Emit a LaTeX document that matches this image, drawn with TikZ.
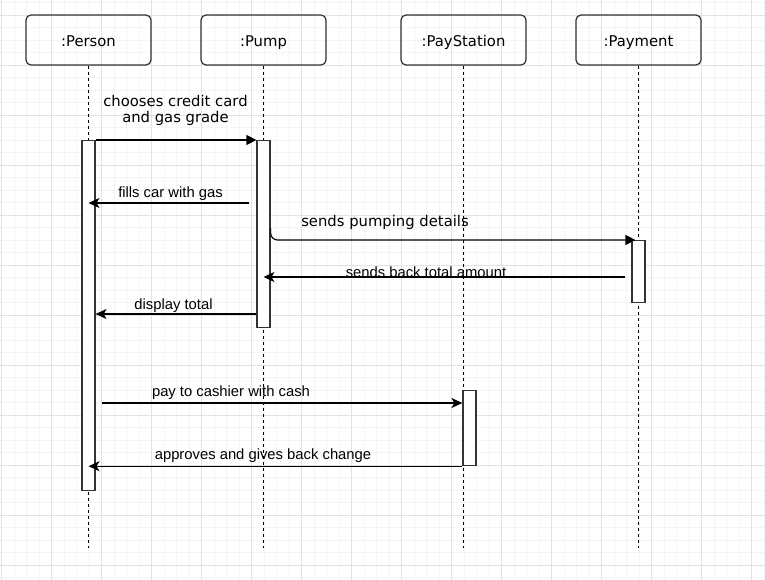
\documentclass[tikz,border=0pt]{standalone}
\usepackage{fontspec}
\setmainfont{Liberation Sans}
\newfontfamily\widefont{DejaVu Sans}
\usetikzlibrary{arrows.meta, positioning}

\definecolor{gridmajor}{HTML}{E2E2E2}
\definecolor{gridminor}{HTML}{F4F4F4}
\definecolor{edge}{HTML}{333333}

\tikzset{
  obj/.style={draw=edge, line width=1.2pt, rounded corners=5pt, minimum width=125pt, minimum height=50pt, inner sep=0pt, font=\widefont\fontsize{14.8}{17}\selectfont, text height=15pt, text depth=1pt},
  life/.style={dash pattern=on 3pt off 3pt, line width=1pt},
  bar/.style={draw=edge, fill=white, line width=1.2pt, minimum width=13pt, inner sep=0pt, anchor=north},
  call/.style={-{Triangle[length=10pt,width=10pt]}, line width=1.2pt},
  reply/.style={-{Stealth[length=11pt,width=10pt,inset=3pt]}, line width=1.2pt},
  lbl/.style={font=\fontsize{14.8}{17}\selectfont, inner sep=0pt, text height=11pt, text depth=3pt},
  wlbl/.style={lbl, font=\widefont\fontsize{14.8}{17}\selectfont}
}

\begin{document}
\begin{tikzpicture}[x=1pt, y=-1pt]

\useasboundingbox (0,0) rectangle (765,580);

% grid
\foreach \i in {0,...,61}{
    \draw[gridminor, line width=0.8pt] (1.7+12.5*\i,0) -- (1.7+12.5*\i,580);
};
\foreach \j in {0,...,46}{
    \draw[gridminor, line width=0.8pt] (0,2.5+12.5*\j) -- (765,2.5+12.5*\j);
};
\foreach \i in {0,...,15}{
    \draw[gridmajor, line width=0.8pt] (1.7+50*\i,0) -- (1.7+50*\i,580);
};
\foreach \j in {0,...,11}{
    \draw[gridmajor, line width=0.8pt] (0,15+50*\j) -- (765,15+50*\j);
};

% objects
\node[obj] (person) at (88.5,40) {:Person};
\node[obj] (pump) at (263.5,40) {:Pump};
\node[obj] (station) at (463.5,40) {:PayStation};
\node[obj] (payment) at (638.5,40) {:Payment};

\coordinate (bottom) at (0,548);
\foreach \o in {person, pump, station, payment}{
    \draw[life] (\o.south) -- (\o.south |- bottom);
};

% activations
\node[bar, minimum height=350pt] (barPerson) at (88.5,140) {};
\node[bar, minimum height=187pt] (barPump) at (263.5,140) {};
\node[bar, minimum height=62pt] (barPayment) at (638.5,240) {};
\node[bar, minimum height=75pt] (barCash) at (469.5,390) {};

% message levels
\coordinate (yFill) at (0,203);
\coordinate (yDetail) at (0,228);
\coordinate (yBack) at (0,277);
\coordinate (yShow) at (0,314);
\coordinate (yPay) at (0,403);

% messages
\draw[call] (barPerson.north east) -- (barPump.north west);
\node[wlbl, align=center, text height=, text depth=, font=\widefont\fontsize{14.8}{16.7}\selectfont] (chooseLbl) at (175.5,110.3) {chooses credit card\\and gas grade};

\draw[reply] ([xshift=-7pt]barPump.west |- yFill) -- (barPerson.center |- yFill);
\node[lbl] (fillLbl) at (170.5,193.6) {fills car with gas};

\draw[call, rounded corners=7pt] (barPump.east |- yDetail) |- ([xshift=4pt]barPayment.north west);
\node[wlbl] (detailLbl) at (385,222.5) {sends pumping details};

\draw[reply] ([xshift=-6pt]barPayment.west |- yBack) -- (barPump.center |- yBack);
\node[lbl] (backLbl) at (426,273) {sends back total amount};

\draw[reply] (barPump.west |- yShow) -- (barPerson.east |- yShow);
\node[lbl] (showLbl) at (173.5,305.3) {display total};

\draw[reply] ([xshift=6pt]barPerson.east |- yPay) -- (barCash.west |- yPay);
\node[lbl] (payLbl) at (231,392.2) {pay to cashier with cash};

\draw[reply] (barCash.south west) -- (barPerson.center |- barCash.south west);
\node[lbl] (changeLbl) at (263,455) {approves and gives back change};

\end{tikzpicture}
\end{document}
